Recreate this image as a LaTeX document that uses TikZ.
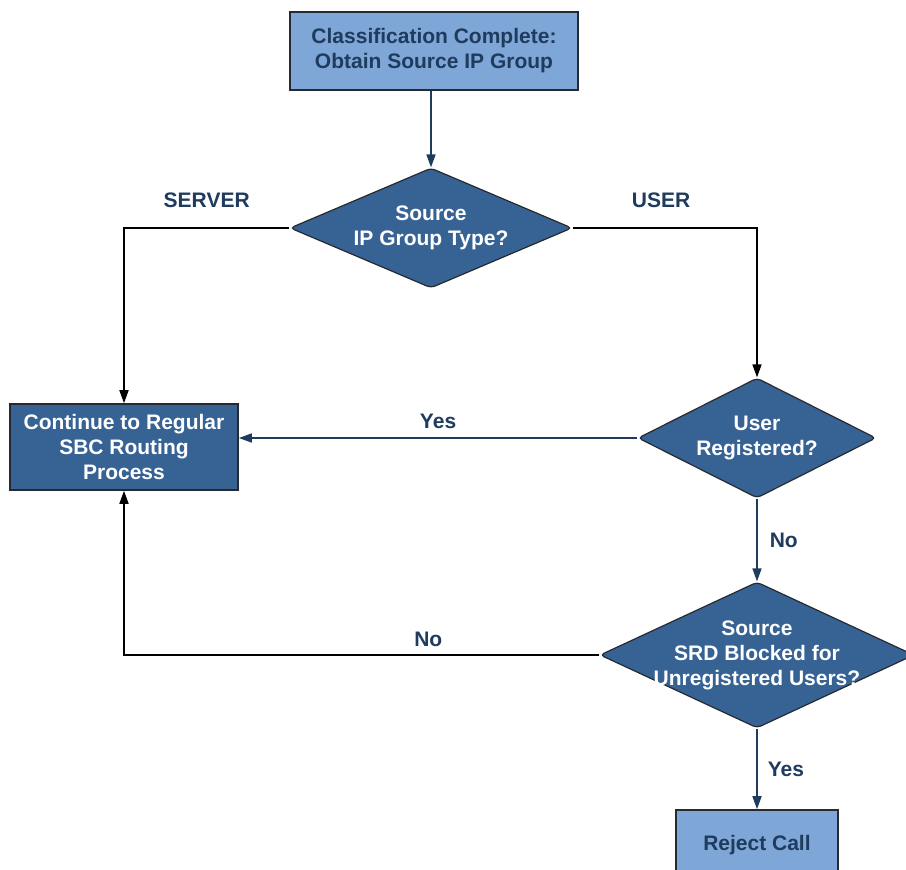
\documentclass[tikz,border=0pt]{standalone}
\usepackage{fontspec}
\setmainfont{Liberation Sans}
\usetikzlibrary{arrows.meta,shapes.geometric}
\definecolor{boxlight}{HTML}{7EA6D6}
\definecolor{boxdark}{HTML}{376294}
\definecolor{navy}{HTML}{1F3B5E}
\definecolor{rim}{HTML}{262A30}
\tikzset{
    every node/.style={
        font=\fontsize{21}{25}\selectfont\bfseries
    },
    process light/.style={
        draw=rim, line width=1.6pt, fill=boxlight, text=navy,
        align=center, inner sep=0pt
    },
    process dark/.style={
        draw=rim, line width=1.6pt, fill=boxdark, text=white,
        align=center, inner sep=0pt
    },
    decision/.style={
        diamond, draw=rim, line width=1.2pt, fill=boxdark,
        inner sep=0pt, rounded corners=4pt
    },
    question/.style={
        text=white, align=center
    },
    branch/.style={
        text=navy, inner sep=2pt
    },
    flow/.style={
        line width=1.6pt,
        -{Triangle[width=9pt,length=13pt]}
    }
}

\begin{document}
\begin{tikzpicture}[x=1pt, y=-1pt]
                \useasboundingbox (0,0) rectangle (906,870);

                \node [process light, minimum width=288, minimum height=78] (classify) at (434, 51)
                    {Classification Complete:\\Obtain Source IP Group};
                \node [decision, minimum width=282, minimum height=120,
                    label={[question]center:Source\\IP Group Type?}] (grouptype) at (431, 228) {};
                \node [process dark, minimum width=228, minimum height=86] (routing) at (124, 447)
                    {Continue to Regular\\SBC Routing\\Process};
                \node [decision, minimum width=238, minimum height=120,
                    label={[question]center:User\\Registered?}] (registered) at (757, 438) {};
                \node [decision, minimum width=314, minimum height=146,
                    label={[question]center:Source\\SRD Blocked for\\Unregistered Users?}] (blocked) at (757, 655) {};
                \node [process light, minimum width=162, minimum height=70] (reject) at (757, 845)
                    {Reject Call};

                % connectors
                \draw [flow, navy] (grouptype.north |- classify.south) -- (grouptype.north);
                \draw [flow, black] (grouptype.west) -| (routing.north)
                    node [branch, pos=0.25, above=17pt] (server) {SERVER};
                \draw [flow, black] (grouptype.east) -| (registered.north)
                    node [branch, pos=0.24, above=17pt] (user) {USER};
                \draw [flow, navy] (registered.west) -- (registered.west -| routing.east)
                    node [branch, midway, above=6pt] (regyes) {Yes};
                \draw [flow, navy] (registered.south) -- (blocked.north)
                    node [branch, midway, right=10pt] (regno) {No};
                \draw [flow, black] (blocked.west) -| (routing.south)
                    node [branch, pos=0.18, above=6pt] (blockno) {No};
                \draw [flow, navy] (blocked.south) -- (reject.north)
                    node [branch, midway, right=8pt] (blockyes) {Yes};
            \end{tikzpicture}
\end{document}
